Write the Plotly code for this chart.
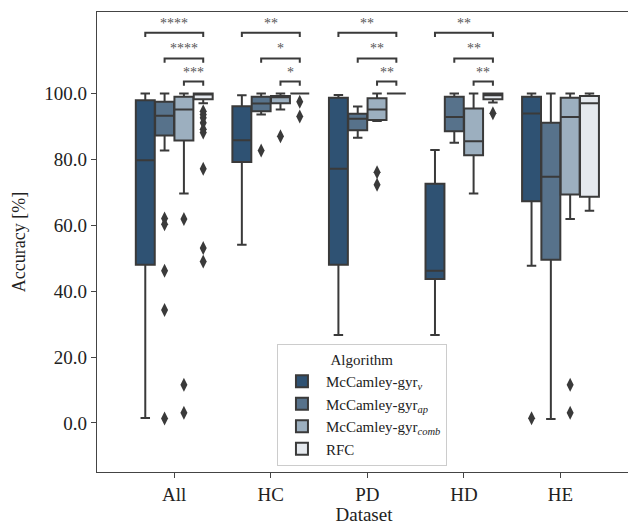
import plotly.graph_objects as go

datasets = ["All", "HC", "PD", "HD", "HE"]
algorithms = ["McCamley-gyr<sub><i>v</i></sub>", "McCamley-gyr<sub><i>ap</i></sub>",
              "McCamley-gyr<sub><i>comb</i></sub>", "RFC"]
colors = ["#2f5273", "#57728b", "#9cafbf", "#e5e9ee"]

# per algorithm, per dataset (All, HC, PD, HD, HE)
q1 = {
    0: [48.0, 79.2, 48.0, 43.7, 67.3],
    1: [87.2, 94.6, 88.8, 88.5, 49.5],
    2: [85.7, 97.0, 91.9, 81.2, 69.3],
    3: [98.2, 100.0, 100.0, 98.2, 68.6],
}
median = {
    0: [79.7, 85.8, 77.1, 46.2, 93.9],
    1: [93.2, 96.9, 92.3, 92.8, 74.7],
    2: [95.1, 98.8, 95.1, 85.5, 92.8],
    3: [99.7, 100.0, 100.0, 99.4, 97.0],
}
q3 = {
    0: [97.9, 96.1, 98.7, 72.6, 99.0],
    1: [97.5, 99.0, 93.8, 99.0, 91.1],
    2: [99.0, 99.2, 98.5, 95.4, 98.7],
    3: [100.0, 100.0, 100.0, 100.0, 99.2],
}
lowerfence = {
    0: [1.5, 54.1, 26.7, 26.7, 47.7],
    1: [82.7, 93.6, 86.5, 85.0, 1.2],
    2: [69.6, 95.1, 91.6, 69.6, 61.9],
    3: [97.0, 100.0, 100.0, 97.2, 64.4],
}
upperfence = {
    0: [100.0, 99.4, 99.5, 82.8, 100.0],
    1: [100.0, 100.0, 96.0, 100.0, 100.0],
    2: [100.0, 100.0, 100.0, 100.0, 100.0],
    3: [100.0, 100.0, 100.0, 100.0, 100.0],
}
# outliers: (algorithm index, dataset index, values)
outliers = [
    (1, 0, [62.0, 60.3, 46.2, 34.3, 1.3]),
    (2, 0, [61.9, 11.6, 3.1]),
    (3, 0, [94.6, 93.6, 92.6, 91.1, 89.1, 88.1, 77.1, 53.1, 49.0]),
    (1, 1, [82.7]),
    (2, 1, [87.0]),
    (3, 1, [97.5, 93.0]),
    (2, 2, [76.1, 72.3]),
    (3, 3, [94.0]),
    (0, 4, [1.4]),
    (2, 4, [11.6, 3.1]),
]
# significance brackets: (dataset index, algo a, algo b, label, level)
sig = [
    (0, 0, 3, "****", 2), (0, 1, 3, "****", 1), (0, 2, 3, "***", 0),
    (1, 0, 3, "**", 2), (1, 1, 3, "*", 1), (1, 2, 3, "*", 0),
    (2, 0, 3, "**", 2), (2, 1, 3, "**", 1), (2, 2, 3, "**", 0),
    (3, 0, 3, "**", 2), (3, 1, 3, "**", 1), (3, 2, 3, "**", 0),
]
bracket_levels = [103.6, 110.6, 118.4]
tip = 1.3

LINE = "#3a3a3a"
FONT = "Liberation Serif"

def pos(d, a):
    return d + (a - 1.5) * 0.2

fig = go.Figure()
for a, name in enumerate(algorithms):
    fig.add_trace(go.Box(
        x=[pos(d, a) for d in range(len(datasets))],
        q1=q1[a], median=median[a], q3=q3[a],
        lowerfence=lowerfence[a], upperfence=upperfence[a],
        name=name, fillcolor=colors[a],
        line=dict(color=LINE, width=2),
        width=0.196, whiskerwidth=0.5, boxpoints=False,
        hoverinfo="skip",
    ))

for a, d, vals in outliers:
    fig.add_trace(go.Scatter(
        x=[pos(d, a)] * len(vals), y=vals, mode="markers",
        marker=dict(symbol="diamond-tall", size=10, color=LINE,
                    line=dict(width=0)),
        showlegend=False, hoverinfo="skip",
    ))

for d, a, b, label, lev in sig:
    y = bracket_levels[lev]
    xa, xb = pos(d, a), pos(d, b)
    fig.add_trace(go.Scatter(
        x=[xa, xa, xb, xb], y=[y - tip, y, y, y - tip], mode="lines",
        line=dict(color=LINE, width=2), showlegend=False, hoverinfo="skip",
    ))
    fig.add_annotation(x=(xa + xb) / 2, y=y, text=label, showarrow=False,
                       yanchor="bottom", yshift=0,
                       font=dict(family=FONT, size=14, color="#555555"))

# the page body has an 8px default margin, so the figure is sized to fit
fig.update_layout(
    width=628, height=517,
    margin=dict(l=89, r=5, t=4, b=53, autoexpand=False),
    plot_bgcolor="white", paper_bgcolor="white",
    font=dict(family=FONT, size=19, color="#222222"),
    showlegend=True,
    legend=dict(
        title=dict(text="Algorithm", side="top center",
                   font=dict(family=FONT, size=15)),
        font=dict(family=FONT, size=15),
        x=0.337, y=0.012, xanchor="left", yanchor="bottom",
        bgcolor="rgba(255,255,255,0.85)", bordercolor="#cccccc",
        borderwidth=1, itemwidth=38, tracegroupgap=0,
    ),
    xaxis=dict(
        range=[-0.80, 4.73], tickmode="array", automargin=False,
        tickvals=list(range(len(datasets))), ticktext=datasets,
        showgrid=False, zeroline=False, showline=True, mirror=True,
        linecolor="#444444", linewidth=1.2, ticks="outside", ticklen=5,
        tickcolor="#444444",
        title=dict(text="Dataset", standoff=0, font=dict(size=19)),
    ),
    yaxis=dict(
        range=[-14.9, 124.7], tickmode="array", automargin=False,
        tickvals=[0, 20, 40, 60, 80, 100],
        ticktext=["0.0", "20.0", "40.0", "60.0", "80.0", "100.0"],
        showgrid=False, zeroline=False, showline=True, mirror=True,
        linecolor="#444444", linewidth=1.2, ticks="outside", ticklen=5,
        tickcolor="#444444",
        title=dict(text="Accuracy [%]", standoff=14, font=dict(size=18)),
    ),
)

fig.write_html("out.html")
